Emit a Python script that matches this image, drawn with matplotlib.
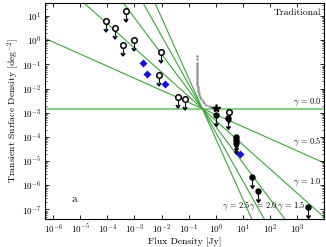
import numpy as np
import matplotlib
matplotlib.use("Agg")
import matplotlib.pyplot as plt

plt.rcParams["font.family"] = "serif"
plt.rcParams["font.serif"] = ["cmr10", "DejaVu Serif"]
plt.rcParams["mathtext.fontset"] = "cm"
plt.rcParams["axes.formatter.use_mathtext"] = True

# upper limits (open circles)
lim_open_x = [8.7e-5, 1.95e-4, 3.7e-4, 5.0e-4, 9.8e-4, 7.9e-3, 9.7e-3, 0.040, 0.071, 3.1]
lim_open_y = [6.0, 3.1, 0.63, 16.5, 1.0, 0.035, 0.32, 4.7e-3, 3.6e-3, 1.1e-3]

# detections (blue diamonds)
det_x = [2.0e-3, 2.95e-3, 0.014, 7.6]
det_y = [0.12, 0.040, 0.015, 1.95e-5]

# upper limits (filled circles)
lim_fill_x = [1.0, 2.8, 5.5, 5.5, 5.5, 21, 37, 2.5e3]
lim_fill_y = [7.9e-4, 6.2e-4, 1.0e-4, 7.7e-5, 5.7e-5, 2.3e-6, 5.6e-7, 1.3e-7]

# star
star_x = [1.07]
star_y = [1.55e-3]

# grey logN-logS points
grey_x = [0.21, 0.21, 0.21, 0.21, 0.21, 0.21, 0.21, 0.21, 0.21, 0.21, 0.21, 0.21,
          0.21, 0.21, 0.215, 0.22, 0.23, 0.24, 0.25, 0.27, 0.29, 0.33, 0.38, 0.45,
          0.55, 0.68, 0.85, 1.0]
grey_y = [0.22, 0.17, 0.115, 0.095, 0.079, 0.065, 0.054, 0.045, 0.037, 0.030, 0.025,
          0.021, 0.017, 0.014, 0.012, 0.0098, 0.0081, 0.0066, 0.0055, 0.0046, 0.0039,
          0.0032, 0.0026, 0.0022, 0.0019, 0.0017, 0.0016, 0.0015]

# power-law lines through a common pivot
gammas = [0.0, 0.5, 1.0, 1.5, 2.0, 2.5]
s0 = 0.32
n0 = 1.5e-3

xlim = (5e-7, 1e4)
ylim = (4e-8, 35)

fig = plt.figure(figsize=(3.26, 2.47), dpi=100)
ax = fig.add_axes([0.138, 0.113, 0.856, 0.875])

s = np.array(xlim)
for g in gammas:
    if g == 0.0:
        ax.plot(s, n0 * (s / s0) ** -g, color="#8ccf8c", lw=1.6, zorder=1)
    else:
        ax.plot(s, n0 * (s / s0) ** -g, color="#3aa53a", lw=0.8, zorder=1)

ax.plot(grey_x, grey_y, "o", color="#909090", ms=1.8, mec="none", zorder=2)

fac = 1 - 10 ** -0.33
ax.errorbar(lim_open_x, lim_open_y, yerr=np.array(lim_open_y) * fac, uplims=True,
            fmt="o", mfc="white", mec="black", mew=1.1, ms=4, ecolor="black",
            elinewidth=0.8, capsize=1.3, zorder=4)
ax.errorbar(lim_fill_x, lim_fill_y, yerr=np.array(lim_fill_y) * fac, uplims=True,
            fmt="o", color="black", ms=3.6, ecolor="black", elinewidth=0.8,
            capsize=1.3, zorder=4)
ax.plot(det_x, det_y, "D", color="#1010e0", ms=3.6, mec="none", zorder=5)
ax.plot(star_x, star_y, "*", color="black", ms=6, zorder=5)

ax.set_xscale("log")
ax.set_yscale("log")
ax.set_xlim(xlim)
ax.set_ylim(ylim)
ax.set_xticks([10.0 ** k for k in range(-6, 4)])
ax.set_yticks([10.0 ** k for k in range(-7, 2)])
ax.tick_params(which="both", direction="in", top=True, right=True, labelsize=6.5)
ax.tick_params(which="major", length=3, width=0.6, pad=2.5)
ax.tick_params(which="minor", length=1.5, width=0.5)
for sp in ax.spines.values():
    sp.set_linewidth(0.8)

ax.set_xlabel("Flux Density [Jy]", fontsize=7, labelpad=1)
ax.set_ylabel(r"Transient Surface Density [deg$^{-2}$]", fontsize=7, labelpad=1)

ax.text(0.99, 0.975, "Traditional", transform=ax.transAxes, ha="right", va="top",
        fontsize=7)
ax.text(0.095, 0.07, "a", transform=ax.transAxes, ha="left", va="bottom",
        fontsize=8, fontweight="bold")

lab = [("0.0", 0.99, 0.515), ("0.5", 0.99, 0.33), ("1.0", 0.99, 0.145),
       ("1.5", 0.935, 0.035), ("2.0", 0.835, 0.035), ("2.5", 0.735, 0.035)]
for g, xa, ya in lab:
    ax.text(xa, ya, r"$\gamma$ = " + g, transform=ax.transAxes, ha="right",
            va="bottom", fontsize=6)

fig.savefig("out.png", dpi=100)
